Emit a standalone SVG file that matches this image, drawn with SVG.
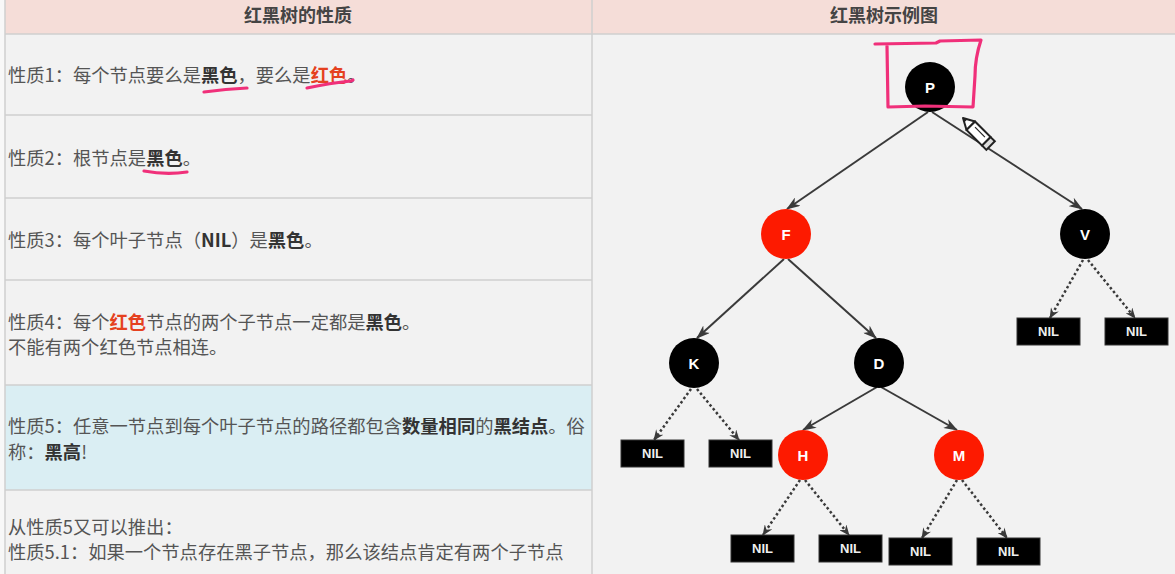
<svg xmlns="http://www.w3.org/2000/svg" width="1175" height="574" viewBox="0 0 1175 574">
<defs>
<style>
.t{font-family:"Noto Sans CJK SC","Noto Sans",sans-serif;font-size:18.3px;fill:#555}
.b{font-weight:bold;fill:#333}
.r{font-weight:bold;fill:#e5411f}
.h{font-family:"Noto Sans CJK SC","Noto Sans",sans-serif;font-size:18px;font-weight:bold;fill:#444;text-anchor:middle}
.grid{stroke:#cfcfcf;stroke-width:1.5;fill:none}
.blk{fill:#000}
.red{fill:#fd1a00}
.lbl{font-family:"Liberation Sans",Arial,sans-serif;font-weight:bold;font-size:15px;fill:#fff;text-anchor:middle}
.nil rect{fill:#000;stroke:#333;stroke-width:1}
.nil text{font-family:"Liberation Sans",Arial,sans-serif;font-weight:bold;font-size:13px;fill:#eee;text-anchor:middle}
.e{stroke:#3a3a3a;stroke-width:2;fill:none;marker-end:url(#ah)}
.d{stroke:#3a3a3a;stroke-width:2.5;fill:none;stroke-dasharray:2.5 2.5;marker-end:url(#ahs)}
.pink{stroke:#f0307a;stroke-width:3.2;fill:none;stroke-linecap:round;stroke-linejoin:round}
</style>
<marker id="ah" viewBox="0 0 14 10" refX="13" refY="5" markerWidth="14" markerHeight="10" markerUnits="userSpaceOnUse" orient="auto">
<path d="M0,0 L14,5 L0,10 L4,5 Z" fill="#3a3a3a"/>
</marker>
<marker id="ahs" viewBox="0 0 12 10" refX="11" refY="5" markerWidth="11" markerHeight="9" markerUnits="userSpaceOnUse" orient="auto">
<path d="M0,0 L12,5 L0,10 L4,5 Z" fill="#3a3a3a"/>
</marker>
</defs>
<rect x="0" y="0" width="1175" height="574" fill="#f8f8f8"/>
<g id="table">
<rect x="5" y="0" width="1170" height="574" fill="#f2f2f2"/>
<rect x="5" y="0" width="1170" height="34" fill="#f5ddd8"/>
<rect x="5" y="385" width="587" height="105" fill="#daeef3"/>
<line class="grid" x1="5" y1="34" x2="1175" y2="34"/>
<line class="grid" x1="5" y1="0" x2="5" y2="574"/>
<line class="grid" x1="592" y1="0" x2="592" y2="574"/>
<line class="grid" x1="5" y1="115" x2="592" y2="115"/>
<line class="grid" x1="5" y1="198" x2="592" y2="198"/>
<line class="grid" x1="5" y1="280" x2="592" y2="280"/>
<line class="grid" x1="5" y1="385" x2="592" y2="385"/>
<line class="grid" x1="5" y1="490" x2="592" y2="490"/>
<text class="h" x="298" y="22">红黑树的性质</text>
<text class="h" x="884" y="22">红黑树示例图</text>
</g>
<g id="properties">
<text class="t" x="8" y="82">性质1：每个节点要么是<tspan class="b">黑色</tspan>，要么是<tspan class="r">红色</tspan>。</text>
<text class="t" x="8" y="165">性质2：根节点是<tspan class="b">黑色</tspan>。</text>
<text class="t" x="8" y="247">性质3：每个叶子节点（<tspan class="b">NIL</tspan>）是<tspan class="b">黑色</tspan>。</text>
<text class="t" x="8" y="329">性质4：每个<tspan class="r">红色</tspan>节点的两个子节点一定都是<tspan class="b">黑色</tspan>。</text>
<text class="t" x="8" y="354">不能有两个红色节点相连。</text>
<text class="t" x="8" y="433">性质5：任意一节点到每个叶子节点的路径都包含<tspan class="b">数量相同</tspan>的<tspan class="b">黑结点</tspan>。俗</text>
<text class="t" x="8" y="459">称：<tspan class="b">黑高</tspan>!</text>
<text class="t" x="8" y="534">从性质5又可以推出：</text>
<text class="t" x="8" y="559">性质5.1：如果一个节点存在黑子节点，那么该结点肯定有两个子节点</text>
</g>
<g id="connectors">
<line class="e" x1="928" y1="112" x2="787" y2="209"/>
<line class="e" x1="932" y1="112" x2="1082" y2="209"/>
<line class="e" x1="784" y1="259" x2="697" y2="338"/>
<line class="e" x1="788" y1="259" x2="876" y2="338"/>
<line class="e" x1="877" y1="387" x2="803" y2="430"/>
<line class="e" x1="881" y1="387" x2="957" y2="430"/>
<line class="d" x1="1083" y1="260" x2="1050" y2="318"/>
<line class="d" x1="1088" y1="260" x2="1135" y2="318"/>
<line class="d" x1="691" y1="389" x2="654" y2="440"/>
<line class="d" x1="697" y1="389" x2="739" y2="440"/>
<line class="d" x1="800" y1="480" x2="763" y2="535"/>
<line class="d" x1="805" y1="480" x2="849" y2="535"/>
<line class="d" x1="957" y1="480" x2="922" y2="538"/>
<line class="d" x1="962" y1="480" x2="1007" y2="538"/>
</g>
<g id="node-P"><circle class="blk" cx="930" cy="87" r="25"/><text class="lbl" x="930" y="93">P</text></g>
<g id="node-F"><circle class="red" cx="786" cy="234" r="25"/><text class="lbl" x="786" y="240">F</text></g>
<g id="node-V"><circle class="blk" cx="1085" cy="234" r="25"/><text class="lbl" x="1085" y="240">V</text></g>
<g id="node-K"><circle class="blk" cx="694" cy="363" r="25"/><text class="lbl" x="694" y="369">K</text></g>
<g id="node-D"><circle class="blk" cx="879" cy="363" r="25"/><text class="lbl" x="879" y="369">D</text></g>
<g id="node-H"><circle class="red" cx="803" cy="455" r="25"/><text class="lbl" x="803" y="461">H</text></g>
<g id="node-M"><circle class="red" cx="959" cy="455" r="25"/><text class="lbl" x="959" y="461">M</text></g>
<g id="nil-V1" class="nil"><rect x="1017" y="318" width="63" height="27"/><text x="1048.5" y="336">NIL</text></g>
<g id="nil-V2" class="nil"><rect x="1105" y="318" width="63" height="27"/><text x="1136.5" y="336">NIL</text></g>
<g id="nil-K1" class="nil"><rect x="621" y="440" width="63" height="27"/><text x="652.5" y="458">NIL</text></g>
<g id="nil-K2" class="nil"><rect x="709" y="440" width="63" height="27"/><text x="740.5" y="458">NIL</text></g>
<g id="nil-H1" class="nil"><rect x="731" y="535" width="63" height="27"/><text x="762.5" y="553">NIL</text></g>
<g id="nil-H2" class="nil"><rect x="819" y="535" width="63" height="27"/><text x="850.5" y="553">NIL</text></g>
<g id="nil-M1" class="nil"><rect x="889" y="538" width="63" height="27"/><text x="920.5" y="556">NIL</text></g>
<g id="nil-M2" class="nil"><rect x="977" y="538" width="63" height="27"/><text x="1008.5" y="556">NIL</text></g>
<g id="annotations">
<path class="pink" d="M875 44 L936 43 L940 41 L981 40 C977 52 975 63 975 76 L973 107 L925 106 L888 107 L887 46"/>
<path class="pink" d="M204 92 Q226 89 247 88"/>
<path class="pink" d="M307 88 Q330 83 351 81 L353 80"/>
<path class="pink" d="M144 171 Q166 175 187 172"/>
</g>
<g id="cursor" transform="translate(963,118) rotate(45)">
<path d="M0,0 L11,-6 L11,6 Z" fill="#fff" stroke="#222" stroke-width="2" stroke-linejoin="round"/>
<path d="M0,0 L4,-2 L4,2 Z" fill="#222"/>
<rect x="11" y="-6" width="22" height="12" fill="#fff" stroke="#222" stroke-width="2"/>
<line x1="15" y1="-2" x2="29" y2="-2" stroke="#222" stroke-width="1.2"/>
<rect x="33" y="-6" width="6" height="12" fill="#ddd" stroke="#222" stroke-width="2"/>
</g>
</svg>
